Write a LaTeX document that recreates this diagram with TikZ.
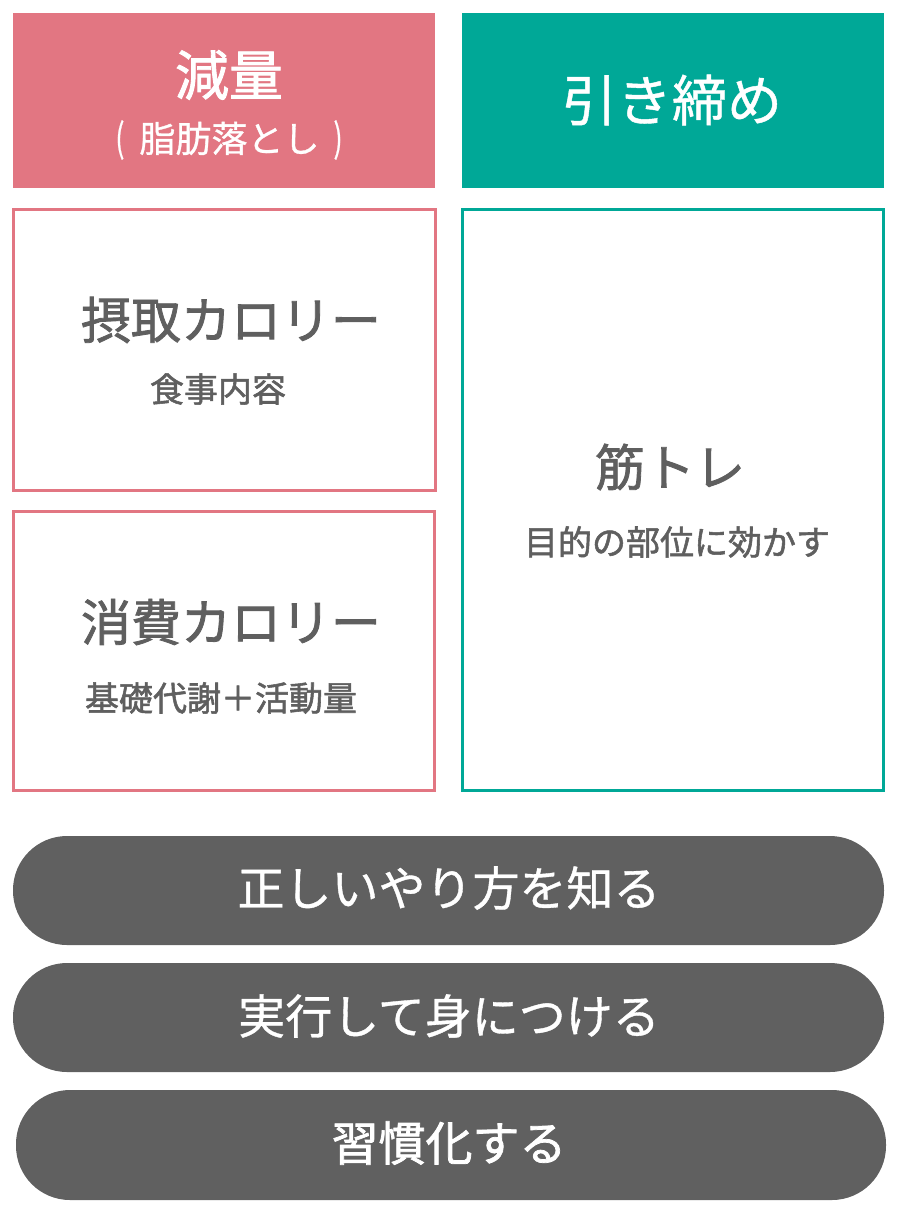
\documentclass[tikz,border=0pt]{standalone}
\usepackage{fontspec}
\setmainfont{Noto Sans CJK JP}
\newfontfamily\medfont{Noto Sans CJK JP}[FakeBold=0.8]
\newfontfamily\bldfont{Noto Sans CJK JP}[FakeBold=1.6]
\definecolor{pinkc}{HTML}{E27682}
\definecolor{tealc}{HTML}{00A897}
\definecolor{greyc}{HTML}{606060}
\definecolor{textg}{HTML}{5F5F5F}
\begin{document}
\begin{tikzpicture}[x=1pt,y=-1pt,
  hdr/.style={inner sep=0pt, text=white, align=center},
  boxtxt/.style={inner sep=0pt, text=textg},
  pill/.style={rounded corners=54pt, fill=greyc},
  pilltxt/.style={inner sep=0pt, text=white, font=\medfont\fontsize{47}{50}\selectfont}]
\useasboundingbox (0,0) rectangle (900,1216);
% headers
\fill[pinkc] (13,13) rectangle (435,188);
\fill[tealc] (462,13) rectangle (884,188);
\node[hdr, font=\bldfont\fontsize{54}{60}\selectfont] (genryo) at (229,75) {減量};
\node[hdr, font=\medfont\fontsize{36}{40}\selectfont] (shibo) at (229,140) {\scalebox{0.75}[1.08]{(}\hspace{15pt}脂肪落とし\hspace{14pt}\scalebox{0.75}[1.08]{)}};
\node[hdr, font=\medfont\fontsize{55}{60}\selectfont] (hiki) at (672,100) {引き締め};
% boxes
\draw[pinkc, line width=3pt] (13.5,209.5) rectangle (435.5,490);
\draw[pinkc, line width=3pt] (13.5,511.5) rectangle (434.5,790.5);
\draw[tealc, line width=3pt] (462.5,209.5) rectangle (883.5,790.5);
\node[boxtxt, font=\bldfont\fontsize{50}{54}\selectfont] (sesshu) at (231,320) {摂取カロリー};
\node[boxtxt, font=\bldfont\fontsize{34}{40}\selectfont] (shokuji) at (218,389) {食事内容};
\node[boxtxt, font=\bldfont\fontsize{50}{54}\selectfont] (shohi) at (231,622) {消費カロリー};
\node[boxtxt, font=\bldfont\fontsize{34}{40}\selectfont] (kiso) at (221,698) {基礎代謝＋活動量};
\node[boxtxt, font=\bldfont\fontsize{50}{54}\selectfont] (kintore) at (670,467) {筋トレ};
\node[boxtxt, font=\bldfont\fontsize{34}{40}\selectfont] (mokuteki) at (677,542) {目的の部位に効かす};
% pills
\fill[pill] (13,836) rectangle (884,945);
\fill[pill] (13,963) rectangle (884,1072);
\fill[pill] (16,1090) rectangle (886,1200);
\node[pilltxt] (p1) at (449,888) {正しいやり方を知る};
\node[pilltxt] (p2) at (449,1016) {実行して身につける};
\node[pilltxt, font=\bldfont\fontsize{47}{50}\selectfont] (p3) at (449,1143) {習慣化する};
\end{tikzpicture}
\end{document}
